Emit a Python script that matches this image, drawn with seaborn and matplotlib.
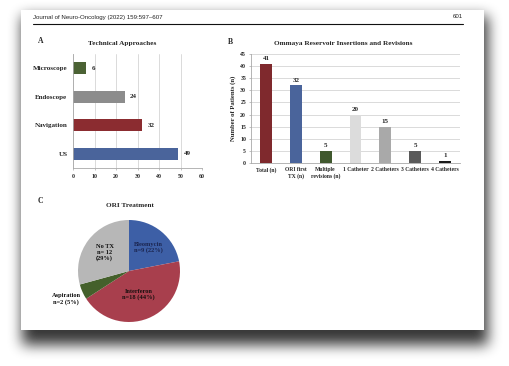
import numpy as np
import pandas as pd
import matplotlib
matplotlib.use("Agg")
import matplotlib.pyplot as plt
import seaborn as sns

# panel A data
approaches = ["Microscope", "Endoscope", "Navigation", "US"]
approach_counts = [6, 24, 32, 49]
approach_colors = ["#4b6a2c", "#8c8c8c", "#9b1c22", "#3c5fa8"]

# panel B data
ori_cats = ["Total (n)", "ORI first\nTX (n)", "Multiple\nrevisions (n)", "1 Catheter",
            "2 Catheters", "3 Catheters", "4 Catheters"]
ori_counts = [41, 32, 5, 20, 15, 5, 1]
ori_colors = ["#8e1a20", "#3c5fa8", "#3f5f27", "#dcdcdc", "#a9a9a9", "#5a5a5a", "#1c1c1c"]

# panel C data
tx_labels = ["Bleomycin\nn=9 (22%)", "Interferon\nn=18 (44%)", "Aspiration\nn=2 (5%)",
             "No TX\nn= 12\n(29%)"]
tx_counts = [9, 18, 2, 12]
tx_colors = ["#3d5fa6", "#a83f4d", "#44602b", "#b7b7b7"]

W, H = 509, 366
sns.set_theme(style="white")
plt.rcParams["font.family"] = ["Liberation Serif", "DejaVu Serif"]
plt.rcParams["font.weight"] = "bold"
plt.rcParams["axes.labelweight"] = "bold"

fig = plt.figure(figsize=(W / 100, H / 100), dpi=100)


def box(left, top, right, bottom):
    return [left / W, 1 - bottom / H, (right - left) / W, (bottom - top) / H]


# page + drop shadow background
bg = np.zeros((H, W))
bg[16:345, 22:488] = 1.0
k = np.ones(13) / 13
for _ in range(3):
    bg = np.apply_along_axis(lambda r: np.convolve(r, k, mode="same"), 1, bg)
    bg = np.apply_along_axis(lambda c: np.convolve(c, k, mode="same"), 0, bg)
img = 1 - 0.78 * bg
img[10:330, 21:484] = 1.0
ax_bg = fig.add_axes([0, 0, 1, 1], zorder=-5)
ax_bg.imshow(img, cmap="gray", vmin=0, vmax=1, aspect="auto", interpolation="bilinear")
ax_bg.axis("off")

# header
fig.text(33 / W, 1 - 17 / H, "Journal of Neuro-Oncology (2022) 159:597\u2013607",
         family="Liberation Sans", weight="normal", fontsize=4.4, va="center", color="#222222")
fig.text(463 / W, 1 - 17 / H, "601", family="Liberation Sans", weight="normal",
         fontsize=4.4, va="center", ha="right", color="#222222")
fig.add_artist(plt.Line2D([33 / W, 463 / W], [1 - 24 / H, 1 - 24 / H], color="#111111", lw=0.8))

# panel letters and titles
for letter, x, y in [("A", 38, 41), ("B", 228, 42), ("C", 38, 201)]:
    fig.text(x / W, 1 - y / H, letter, fontsize=5.5, va="center", ha="left")
fig.text(122 / W, 1 - 43 / H, "Technical Approaches", fontsize=5.2, ha="center", va="center")
fig.text(343 / W, 1 - 43 / H, "Ommaya Reservoir Insertions and Revisions", fontsize=5.2,
         ha="center", va="center")
fig.text(130 / W, 1 - 206 / H, "ORI Treatment", fontsize=5.2, ha="center", va="center")

# ---- panel A
axA = fig.add_axes(box(73, 54, 202, 168))
dfA = pd.DataFrame({"approach": approaches, "n": approach_counts})
sns.barplot(data=dfA, x="n", y="approach", hue="approach", palette=approach_colors,
            orient="h", width=0.42, linewidth=0, legend=False, ax=axA)
for c in axA.containers:
    axA.bar_label(c, padding=4, fontsize=5, fontweight="bold")
axA.set_xlim(0, 60)
axA.set_xticks(range(0, 61, 10))
axA.set_xlabel("")
axA.set_ylabel("")
axA.grid(axis="x", color="#d4d4d4", lw=0.6)
axA.set_axisbelow(True)
for s in ["top", "right"]:
    axA.spines[s].set_visible(False)
for s in ["left", "bottom"]:
    axA.spines[s].set_color("#a8a8a8")
    axA.spines[s].set_linewidth(0.6)
axA.tick_params(axis="x", labelsize=4.2, length=1.5, width=0.5, color="#a8a8a8", pad=3, bottom=True)
axA.tick_params(axis="y", labelsize=5, length=0, pad=4)

# ---- panel B
axB = fig.add_axes(box(251, 54, 460, 163))
dfB = pd.DataFrame({"cat": ori_cats, "n": ori_counts})
sns.barplot(data=dfB, x="cat", y="n", hue="cat", palette=ori_colors, width=0.4,
            linewidth=0, legend=False, ax=axB)
for c in axB.containers:
    axB.bar_label(c, padding=2, fontsize=5, fontweight="bold")
axB.set_ylim(0, 45)
axB.set_yticks(range(0, 46, 5))
axB.set_xlabel("")
axB.set_ylabel("Number of Patients (n)", fontsize=4.8, labelpad=3)
axB.grid(axis="y", color="#d4d4d4", lw=0.6)
axB.set_axisbelow(True)
for s in ["top", "right"]:
    axB.spines[s].set_visible(False)
for s in ["left", "bottom"]:
    axB.spines[s].set_color("#a8a8a8")
    axB.spines[s].set_linewidth(0.6)
axB.tick_params(axis="x", labelsize=4.1, length=0, pad=3)
axB.tick_params(axis="y", labelsize=4.2, length=1.5, width=0.5, color="#a8a8a8", pad=2, left=True)
for t in axB.get_xticklabels() + axB.get_yticklabels() + axA.get_xticklabels() + axA.get_yticklabels():
    t.set_fontweight("bold")

# ---- panel C
axC = fig.add_axes(box(78, 220, 180, 322))
wedges, _ = axC.pie(tx_counts, colors=tx_colors, startangle=90, counterclock=False,
                    radius=1, wedgeprops=dict(linewidth=0))
axC.set_xlim(-1, 1)
axC.set_ylim(-1, 1)
label_r = [0.6, 0.5, 1.35, 0.6]
label_col = ["#1b2550", "#1a1010", "#111111", "#111111"]
for w, lab, r, col in zip(wedges, tx_labels, label_r, label_col):
    ang = np.deg2rad((w.theta1 + w.theta2) / 2)
    axC.text(r * np.cos(ang), r * np.sin(ang), lab, ha="center", va="center",
             fontsize=4.6, color=col, linespacing=1.15, clip_on=False)

fig.savefig("out.png", dpi=100)
